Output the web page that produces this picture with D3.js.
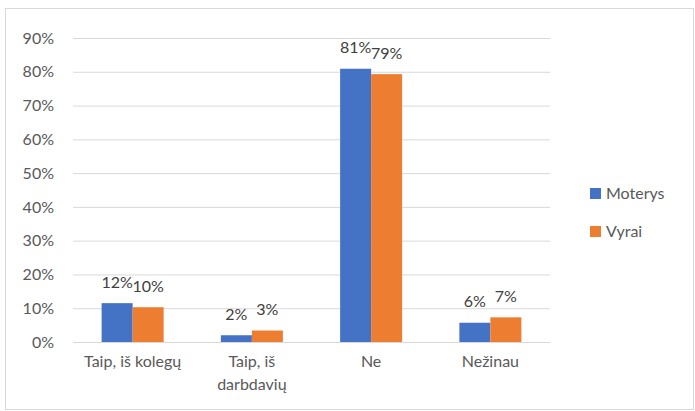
<!DOCTYPE html>
<html><head><meta charset="utf-8">
<script src="https://cdn.jsdelivr.net/npm/d3@7"></script>
<style>body{margin:0;background:#fff;}svg{display:block;}</style>
</head><body>
<svg id="c" width="695" height="411"></svg>
<script>
const categories = ["Taip, iš kolegų", "Taip, iš darbdavių", "Ne", "Nežinau"];
const categoryLines = [["Taip, iš kolegų"], ["Taip, iš", "darbdavių"], ["Ne"], ["Nežinau"]];
const seriesNames = ["Moterys", "Vyrai"];
const moterys = [11.5, 2.0, 80.9, 5.7];
const vyrai = [10.3, 3.4, 79.3, 7.3];
const moterysLabels = ["12%", "2%", "81%", "6%"];
const vyraiLabels = ["10%", "3%", "79%", "7%"];
const yTicks = [0, 10, 20, 30, 40, 50, 60, 70, 80, 90];
const colors = ["#4472C4", "#ED7D31"];

const font = "Lato, 'Open Sans', sans-serif";
const textColor = "#595959";
const fs = "16px";
const svg = d3.select("#c");

svg.append("rect").attr("x", 5.5).attr("y", 8.5).attr("width", 688).attr("height", 401)
  .attr("fill", "#fff").attr("stroke", "#d9d9d9").attr("stroke-width", 1);

const pLeft = 73, pRight = 550, pTop = 38, pBottom = 342;
const y = d3.scaleLinear().domain([0, 90]).range([pBottom, pTop]);
const x = d3.scaleBand().domain(categories).range([pLeft, pRight]).padding(0);
const bw = x.bandwidth();
const xs = d3.scaleBand().domain(seriesNames).range([bw * 0.24, bw * 0.76]).padding(0);

// gridlines
const yAxis = d3.axisLeft(y).tickValues(yTicks).tickFormat(d => d + "%").tickSize(-(pRight - pLeft)).tickPadding(19);
const ga = svg.append("g").attr("transform", `translate(${pLeft},0)`).call(yAxis);
ga.select(".domain").remove();
ga.selectAll(".tick line").attr("stroke", "#d9d9d9").attr("stroke-width", 1);
ga.selectAll(".tick text").attr("fill", textColor).style("font-family", font).style("font-size", fs);

const data = [moterys, vyrai];
const labels = [moterysLabels, vyraiLabels];
seriesNames.forEach((s, si) => {
  const g = svg.append("g");
  g.selectAll("rect").data(categories).join("rect")
    .attr("x", c => x(c) + xs(s))
    .attr("width", xs.bandwidth())
    .attr("y", (c, i) => y(data[si][i]))
    .attr("height", (c, i) => pBottom - y(data[si][i]))
    .attr("fill", colors[si]);
  g.selectAll("text").data(categories).join("text")
    .attr("x", c => x(c) + xs(s) + xs.bandwidth() / 2)
    .attr("y", (c, i) => y(data[si][i]) - 21)
    .attr("dy", "0.35em")
    .attr("text-anchor", "middle")
    .attr("fill", "#404040")
    .style("font-family", font).style("font-size", fs)
    .text((c, i) => labels[si][i]);
});

// category labels
const xg = svg.append("g");
categories.forEach((c, i) => {
  const t = xg.append("text").attr("x", x(c) + bw / 2).attr("y", 367).attr("dy", "0.35em")
    .attr("text-anchor", "middle").attr("fill", textColor)
    .style("font-family", font).style("font-size", fs);
  categoryLines[i].forEach((ln, li) => {
    t.append("tspan").attr("x", x(c) + bw / 2).attr("dy", li === 0 ? 0 : 23).text(ln);
  });
});

// legend
const lg = svg.append("g");
seriesNames.forEach((s, i) => {
  const cy = 193.5 + i * 38;
  lg.append("rect").attr("x", 590).attr("y", cy - 5.5).attr("width", 11).attr("height", 11).attr("fill", colors[i]);
  lg.append("text").attr("x", 606).attr("y", cy).attr("dy", "0.35em").attr("fill", textColor)
    .style("font-family", font).style("font-size", fs).text(s);
});
</script>
</body></html>
